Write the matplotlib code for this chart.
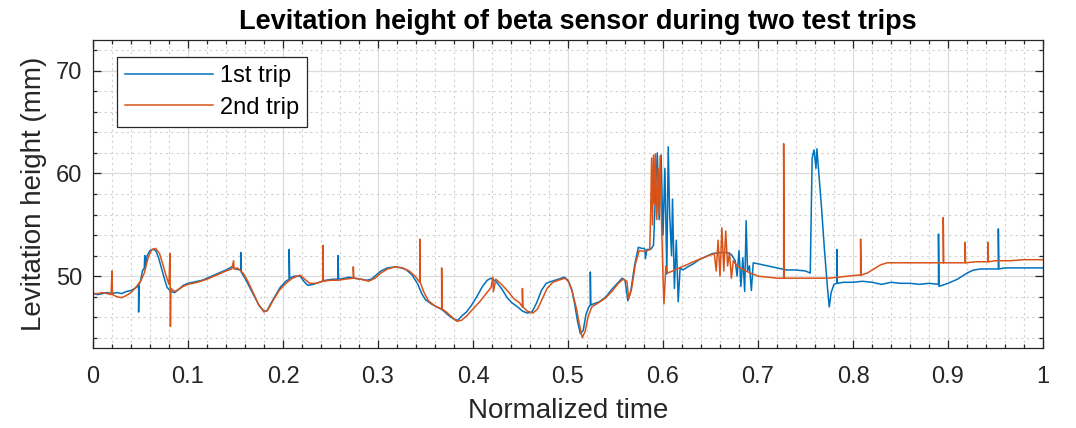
import matplotlib
matplotlib.use("Agg")
import matplotlib.pyplot as plt
from matplotlib.ticker import MultipleLocator

# ---- data (normalized time, levitation height in mm) ----
trip1_t = [0.000, 0.000, 0.0005, 0.005, 0.010, 0.015, 0.020, 0.025, 0.030, 0.035, 0.040, 0.044, 0.047,
           0.048, 0.048, 0.0485, 0.050, 0.052, 0.054, 0.0545, 0.055, 0.057, 0.060, 0.063, 0.066, 0.069,
           0.072, 0.075, 0.078, 0.082, 0.086, 0.090, 0.095, 0.100, 0.105, 0.110, 0.115, 0.120, 0.125,
           0.130, 0.135, 0.140, 0.146, 0.150, 0.1555, 0.1555, 0.156, 0.160, 0.165, 0.170, 0.175, 0.180,
           0.183, 0.187, 0.192, 0.197, 0.203, 0.2065, 0.2065, 0.207, 0.212, 0.218, 0.222, 0.226, 0.232,
           0.238, 0.245, 0.252, 0.258, 0.258, 0.2585, 0.265, 0.270, 0.275, 0.282, 0.288, 0.293, 0.298,
           0.303, 0.310, 0.318, 0.325, 0.330, 0.336, 0.342, 0.346, 0.350, 0.356, 0.362, 0.368, 0.374,
           0.380, 0.384, 0.388, 0.393, 0.398, 0.404, 0.410, 0.415, 0.419, 0.424, 0.430, 0.436, 0.441,
           0.447, 0.452, 0.457, 0.462, 0.467, 0.472, 0.477, 0.483, 0.490, 0.496, 0.500, 0.504, 0.507,
           0.510, 0.513, 0.516, 0.519, 0.522, 0.5235, 0.5235, 0.524, 0.527, 0.533, 0.540, 0.546, 0.552,
           0.557, 0.560, 0.563, 0.566, 0.570, 0.574, 0.578, 0.580, 0.581, 0.5815, 0.583, 0.587, 0.590,
           0.5925, 0.594, 0.596, 0.598, 0.600, 0.602, 0.604, 0.6055, 0.607, 0.609, 0.610, 0.612, 0.614,
           0.616, 0.618, 0.621, 0.626, 0.632, 0.638, 0.645, 0.652, 0.660, 0.667, 0.672, 0.676, 0.678,
           0.680, 0.682, 0.684, 0.686, 0.6875, 0.689, 0.691, 0.693, 0.695, 0.700, 0.710, 0.720, 0.730,
           0.740, 0.750, 0.755, 0.757, 0.759, 0.761, 0.762, 0.764, 0.767, 0.770, 0.773, 0.775, 0.777,
           0.780, 0.783, 0.783, 0.7835, 0.790, 0.800, 0.810, 0.820, 0.830, 0.840, 0.850, 0.860, 0.870,
           0.880, 0.890, 0.890, 0.8905, 0.900, 0.910, 0.920, 0.927, 0.935, 0.945, 0.953, 0.953, 0.9535,
           0.960, 0.970, 0.980, 0.990, 1.000]
trip1_h = [53.0, 48.3, 48.3, 48.2, 48.3, 48.4, 48.3, 48.4, 48.3, 48.5, 48.6, 48.8, 49.0,
           49.0, 46.5, 49.2, 49.5, 50.5, 50.8, 52.0, 50.8, 52.0, 52.5, 52.6, 52.5, 51.8,
           50.8, 49.8, 48.9, 48.5, 48.4, 48.7, 49.1, 49.3, 49.4, 49.5, 49.6, 49.8, 50.0,
           50.2, 50.4, 50.6, 50.9, 50.7, 50.6, 52.3, 50.4, 49.8, 48.9, 48.0, 47.1, 46.6,
           46.6, 47.3, 48.1, 48.9, 49.5, 49.7, 52.6, 49.8, 50.0, 50.0, 49.5, 49.1, 49.2,
           49.4, 49.6, 49.7, 49.7, 52.0, 49.7, 49.8, 49.9, 49.8, 49.7, 49.6, 49.7, 50.1,
           50.5, 50.8, 50.9, 50.8, 50.6, 50.1, 49.2, 48.3, 47.7, 47.3, 47.0, 46.7, 46.2,
           45.8, 45.7, 46.1, 46.5, 47.1, 48.0, 49.0, 49.6, 49.8, 49.5, 48.8, 47.9, 47.4,
           47.0, 46.6, 46.4, 46.5, 47.4, 48.6, 49.3, 49.5, 49.7, 49.9, 49.6, 48.7, 47.3,
           45.6, 44.4, 44.7, 46.3, 47.0, 47.2, 50.4, 47.2, 47.3, 47.5, 48.0, 48.7, 49.3,
           49.8, 49.6, 47.6, 48.5, 51.0, 52.8, 52.7, 52.7, 52.6, 51.7, 52.6, 52.6, 53.0,
           59.0, 62.0, 55.5, 61.8, 54.0, 60.5, 50.2, 62.6, 56.0, 52.0, 57.5, 48.8, 53.5,
           47.5, 50.8, 50.6, 50.9, 51.2, 51.6, 51.9, 52.2, 52.3, 52.3, 52.1, 51.5, 50.0,
           52.5, 49.0, 51.8, 48.5, 55.4, 50.5, 51.0, 48.6, 51.3, 51.2, 51.0, 50.8, 50.6,
           50.6, 50.5, 50.3, 61.5, 62.3, 60.5, 62.4, 60.0, 56.5, 52.5, 49.0, 47.0, 48.4,
           49.2, 49.3, 52.6, 49.3, 49.4, 49.4, 49.5, 49.4, 49.2, 49.4, 49.3, 49.3, 49.2,
           49.3, 49.2, 54.1, 49.0, 49.3, 49.7, 50.3, 50.6, 50.7, 50.7, 50.7, 54.6, 50.7,
           50.8, 50.8, 50.8, 50.8, 50.8]

trip2_t = [0.000, 0.005, 0.010, 0.015, 0.019, 0.020, 0.0205, 0.025, 0.030, 0.035, 0.040, 0.045,
           0.050, 0.054, 0.058, 0.062, 0.066, 0.070, 0.074, 0.077, 0.080, 0.081, 0.0815, 0.082,
           0.086, 0.090, 0.095, 0.100, 0.110, 0.120, 0.130, 0.140, 0.146, 0.148, 0.1485, 0.152,
           0.158, 0.163, 0.168, 0.174, 0.180, 0.184, 0.190, 0.196, 0.203, 0.210, 0.218, 0.223,
           0.228, 0.235, 0.242, 0.242, 0.2425, 0.250, 0.258, 0.265, 0.274, 0.274, 0.2745, 0.282,
           0.290, 0.297, 0.303, 0.310, 0.318, 0.326, 0.333, 0.339, 0.344, 0.344, 0.3445, 0.348,
           0.353, 0.360, 0.367, 0.367, 0.3675, 0.372, 0.378, 0.383, 0.388, 0.393, 0.400, 0.407,
           0.413, 0.419, 0.421, 0.4215, 0.424, 0.430, 0.437, 0.443, 0.449, 0.452, 0.452, 0.4525,
           0.457, 0.463, 0.468, 0.473, 0.478, 0.484, 0.490, 0.497, 0.501, 0.505, 0.509, 0.512,
           0.515, 0.518, 0.521, 0.525, 0.532, 0.540, 0.547, 0.553, 0.558, 0.562, 0.564, 0.567,
           0.571, 0.575, 0.581, 0.586, 0.587, 0.588, 0.589, 0.590, 0.591, 0.592, 0.5935, 0.595,
           0.596, 0.597, 0.5985, 0.600, 0.601, 0.603, 0.605, 0.610, 0.617, 0.625, 0.632, 0.640,
           0.648, 0.654, 0.656, 0.658, 0.660, 0.662, 0.664, 0.666, 0.668, 0.670, 0.672, 0.674,
           0.678, 0.685, 0.692, 0.700, 0.710, 0.720, 0.727, 0.727, 0.7275, 0.735, 0.745, 0.755,
           0.765, 0.775, 0.785, 0.795, 0.805, 0.808, 0.808, 0.8085, 0.815, 0.822, 0.829, 0.836,
           0.845, 0.860, 0.875, 0.895, 0.895, 0.8955, 0.905, 0.918, 0.918, 0.9185, 0.930, 0.942,
           0.942, 0.9425, 0.950, 0.965, 0.980, 1.000]
trip2_h = [48.3, 48.3, 48.4, 48.3, 48.2, 50.5, 48.2, 48.0, 47.9, 48.1, 48.4, 48.9,
           49.5, 50.3, 51.8, 52.6, 52.7, 52.2, 51.0, 50.0, 49.2, 52.2, 45.1, 48.8,
           48.5, 48.7, 49.0, 49.2, 49.4, 49.7, 50.1, 50.5, 50.7, 51.5, 50.7, 50.8,
           50.3, 49.5, 48.5, 47.3, 46.5, 46.7, 47.7, 48.6, 49.3, 49.8, 50.1, 49.7,
           49.3, 49.3, 49.5, 53.0, 49.5, 49.6, 49.6, 49.7, 49.8, 50.9, 49.8, 49.7,
           49.5, 49.8, 50.3, 50.7, 50.9, 50.8, 50.5, 50.0, 49.4, 53.6, 49.4, 48.5,
           47.6, 47.1, 46.8, 50.8, 46.8, 46.5, 46.0, 45.6, 45.7, 46.1, 46.8, 47.5,
           48.2, 48.9, 49.9, 48.5, 49.7, 49.2, 48.5, 47.8, 47.4, 47.0, 48.8, 47.0,
           46.6, 46.4, 46.8, 47.8, 48.8, 49.4, 49.6, 49.8, 49.4, 48.3, 46.8, 45.3,
           44.0, 44.6, 46.0, 47.0, 47.4, 47.9, 48.6, 49.3, 49.7, 49.5, 47.8, 48.8,
           51.2, 52.5, 52.4, 52.6, 56.0, 61.5, 55.0, 61.8, 57.0, 61.9, 55.5, 60.5,
           56.0, 61.7, 55.0, 50.0, 47.3, 51.0, 50.3, 50.5, 50.8, 51.1, 51.4, 51.7,
           52.0, 52.2, 50.5, 53.5, 50.0, 54.7, 50.5, 54.4, 51.0, 52.3, 49.8, 51.5,
           51.0, 50.6, 50.3, 50.0, 49.9, 49.8, 49.8, 62.9, 49.8, 49.8, 49.8, 49.8,
           49.8, 49.8, 49.9, 50.0, 50.1, 50.1, 53.6, 50.1, 50.3, 50.7, 51.1, 51.3,
           51.3, 51.3, 51.3, 51.3, 55.7, 51.3, 51.3, 51.3, 53.3, 51.3, 51.4, 51.4,
           53.3, 51.4, 51.5, 51.5, 51.6, 51.6]

series_labels = ["1st trip", "2nd trip"]
x_ticks = [0, 0.1, 0.2, 0.3, 0.4, 0.5, 0.6, 0.7, 0.8, 0.9, 1]
x_tick_labels = ["0", "0.1", "0.2", "0.3", "0.4", "0.5", "0.6", "0.7", "0.8", "0.9", "1"]
y_ticks = [50, 60, 70]

# ---- styling ----
plt.rcParams['font.family'] = ['Liberation Sans', 'DejaVu Sans']
axcol = '#262626'
blue = '#0072BD'
orange = '#D95319'

fig = plt.figure(figsize=(10.76, 4.28), dpi=100)
ax = fig.add_axes([93/1076, 1-348/428, 950/1076, 308/428])

ax.plot(trip1_t, trip1_h, color=blue, lw=1.1, label=series_labels[0])
ax.plot(trip2_t, trip2_h, color=orange, lw=1.1, label=series_labels[1])

ax.set_xlim(0, 1)
ax.set_ylim(43, 73)
ax.set_xticks(x_ticks)
ax.set_xticklabels(x_tick_labels)
ax.set_yticks(y_ticks)
ax.xaxis.set_minor_locator(MultipleLocator(0.02))
ax.yaxis.set_minor_locator(MultipleLocator(2))

ax.grid(True, which='major', color='#dcdcdc', lw=0.9, ls='-')
ax.grid(True, which='minor', color='#d0d0d0', lw=0.8, ls=(0, (2, 3)))
ax.set_axisbelow(True)

for sp in ax.spines.values():
    sp.set_color(axcol)
    sp.set_linewidth(0.9)
ax.tick_params(which='both', direction='in', top=True, right=True, colors=axcol,
               labelsize=17, width=0.9)
ax.tick_params(axis='x', which='major', length=6, pad=13)
ax.tick_params(axis='y', which='major', length=6, pad=8)
ax.tick_params(which='minor', length=3)

ax.set_xlabel("Normalized time", fontsize=20, color=axcol, labelpad=7)
ax.set_ylabel("Levitation height (mm)", fontsize=20, color=axcol, labelpad=6)
ax.set_title("Levitation height of beta sensor during two test trips",
             fontsize=19.5, fontweight='bold', color='black', pad=8, x=0.51)

leg = ax.legend(loc='upper left', bbox_to_anchor=(24/950, 1-17/308), borderaxespad=0,
                fontsize=17, frameon=True, fancybox=False, edgecolor=axcol, framealpha=1,
                handlelength=3.7, borderpad=0.35, labelspacing=0.4, handletextpad=0.3)
leg.get_frame().set_linewidth(0.9)

fig.savefig("out.png", dpi=100)
